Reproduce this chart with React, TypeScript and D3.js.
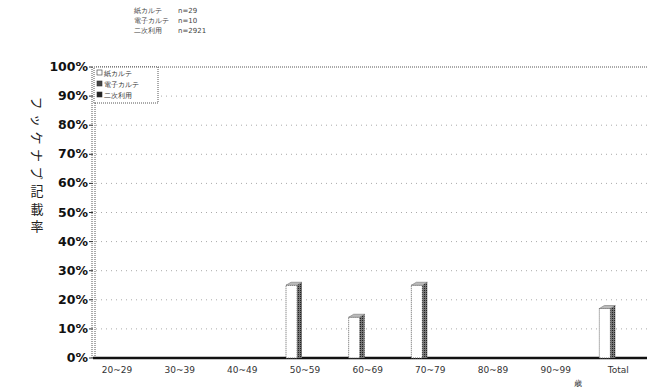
import React from "react";
import * as d3 from "d3";

const categories = ["20~29", "30~39", "40~49", "50~59", "60~69", "70~79", "80~89", "90~99", "Total"];
const seriesNames = ["紙カルテ", "電子カルテ", "二次利用"];
const seriesCounts = ["n=29", "n=10", "n=2921"];
const paperValues = [0, 0, 0, 25, 14, 25, 0, 0, 17];
const electronicValues = [0, 0, 0, 0, 0, 0, 0, 0, 0];
const secondaryValues = [0, 0, 0, 0, 0, 0, 0, 0, 0];
const yTicks = [0, 10, 20, 30, 40, 50, 60, 70, 80, 90, 100];
const yTitle = "フッケナプ記載率";
const xUnit = "歳";

export default function App() {
  const W = 647, H = 388;
  const x = d3.scaleBand<string>().domain(categories).range([96, 660]).paddingInner(0);
  const y = d3.scaleLinear().domain([0, 100]).range([358, 67]);
  const series = [paperValues, electronicValues, secondaryValues];
  const barW = 11;
  const side = 5;
  const font = "'DejaVu Sans', sans-serif";

  return (
    <svg width={W} height={H} style={{ position: "absolute", left: 0, top: 0, background: "#fff" }}>
      <defs>
        <pattern id="hatch" width="2" height="2" patternUnits="userSpaceOnUse">
          <rect width="2" height="2" fill="#777" />
          <rect width="1" height="1" fill="#222" />
        </pattern>
      </defs>
      {/* header */}
      {seriesNames.map((s, i) => (
        <g key={s} fontFamily={font} fontSize={7} fill="#444">
          <text x={134} y={13 + i * 10}>{s}</text>
          <text x={178} y={13 + i * 10}>{seriesCounts[i]}</text>
        </g>
      ))}
      {/* gridlines */}
      {yTicks.map((t) => (
        <line key={t} x1={96} x2={647} y1={y(t)} y2={y(t)} stroke={t === 100 ? "#555" : "#aaa"}
          strokeDasharray={t === 100 ? "1,1" : "1,4"} strokeWidth={1} />
      ))}
      {/* y axis wall */}
      <line x1={92} x2={92} y1={y(100)} y2={y(0)} stroke="#555" strokeDasharray="1,1" />
      <line x1={95} x2={95} y1={y(100)} y2={y(0)} stroke="#555" strokeDasharray="1,1" />
      {yTicks.map((t) => (
        <g key={"t" + t}>
          <line x1={89} x2={93} y1={y(t)} y2={y(t)} stroke="#333" />
          <text x={88} y={y(t) + 4} textAnchor="end" fontFamily={font} fontWeight="bold" fontSize={12.5} fill="#111">{t}%</text>
        </g>
      ))}
      {/* baseline */}
      <line x1={93} x2={647} y1={y(0)} y2={y(0)} stroke="#111" strokeWidth={2.5} />
      {/* bars */}
      {series.map((vals, si) =>
        vals.map((v, ci) => {
          if (v <= 0) return null;
          const bx = (x(categories[ci]) as number) + 2 + si * (barW + side);
          const by = y(v);
          const h = y(0) - by;
          return (
            <g key={si + "-" + ci}>
              <rect x={bx} y={by} width={barW} height={h} fill="#fff" stroke="#666" strokeDasharray="1,1" />
              <polygon points={`${bx},${by} ${bx + side},${by - 3} ${bx + barW + side},${by - 3} ${bx + barW},${by}`} fill="#bbb" stroke="#777" strokeWidth={0.6} />
              <polygon points={`${bx + barW},${by} ${bx + barW + side},${by - 3} ${bx + barW + side},${y(0)} ${bx + barW},${y(0)}`} fill="url(#hatch)" />
            </g>
          );
        })
      )}
      {/* x labels */}
      {categories.map((c) => (
        <text key={c} x={(x(c) as number) + 21} y={373} textAnchor="middle" fontFamily={font} fontSize={9} fill="#333">{c}</text>
      ))}
      <text x={578} y={386} textAnchor="middle" fontFamily={font} fontSize={8} fill="#333">{xUnit}</text>
      {/* legend */}
      <rect x={94} y={67} width={64} height={36} fill="#fff" stroke="#555" strokeDasharray="1,1" />
      {seriesNames.map((s, i) => (
        <g key={"l" + s}>
          <rect x={97} y={70 + i * 11} width={5} height={5} fill={i === 0 ? "#fff" : i === 1 ? "#444" : "#222"} stroke="#333" strokeWidth={0.6} />
          <text x={104} y={76 + i * 11} fontFamily={font} fontSize={7} fill="#333">{s}</text>
        </g>
      ))}
      {/* y title */}
      {Array.from(yTitle).map((ch, i) => {
        const cy = 103 + i * 17.5;
        return (
          <text key={"y" + i} x={37} y={cy} textAnchor="middle" dominantBaseline="central"
            fontFamily="'Noto Sans CJK JP', sans-serif" fontSize={13} fill="#222"
            transform={i < 5 ? `rotate(90, 37, ${cy})` : undefined}>{ch}</text>
        );
      })}
    </svg>
  );
}
